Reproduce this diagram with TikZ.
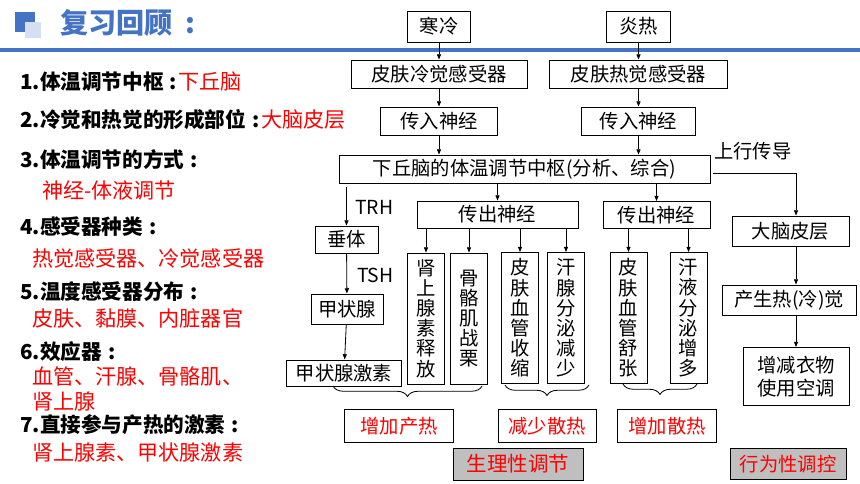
\documentclass[tikz,border=0pt]{standalone}
\usepackage{fontspec}
\setmainfont{Noto Sans CJK SC}
\usepackage{tikz}
\usetikzlibrary{arrows.meta, positioning, decorations.pathreplacing, calc}

\definecolor{titleblue}{HTML}{4472C4}
\definecolor{lightblue}{HTML}{D6DFF2}
\definecolor{boxgray}{HTML}{BFBFBF}
\newcommand\qcolon{\hspace{0.3em}:}

\begin{document}
\begin{tikzpicture}[
  x=0.03cm, y=-0.03cm,
  box/.style={rectangle, draw=black, line width=0.8pt, inner sep=0pt, font=\fontsize{16.5}{18}\selectfont, align=center},
  vbox/.style={box, minimum width=1.11cm, minimum height=3.93cm, font=\fontsize{16.5}{17.2}\selectfont},
  redbox/.style={box, text=red, minimum height=0.99cm},
  graybox/.style={box, fill=boxgray, text=red, font=\fontsize{17.5}{19}\selectfont},
  hlabel/.style={anchor=west, inner sep=0pt, font=\fontsize{16.5}{18}\selectfont},
  item/.style={anchor=west, inner sep=0pt, font=\fontsize{17.6}{20}\selectfont\bfseries},
  ans/.style={anchor=west, inner sep=0pt, text=red, font=\fontsize{18}{20}\selectfont},
  arr/.style={-{Triangle[length=4.5pt, width=3.5pt]}, line width=0.7pt},
  brc/.style={decorate, decoration={brace, mirror, amplitude=9pt}, line width=0.7pt},
]
\useasboundingbox (0,0) rectangle (860,484);

%% Title bar
\fill[titleblue] (15,12) rectangle (35,32);
\fill[lightblue] (25,22) rectangle (41,38);
\node[anchor=west, inner sep=0pt, text=titleblue, font=\fontsize{24}{26}\selectfont\bfseries] (title) at (60,23) {复习回顾\hspace{0.45em}:};
\draw[titleblue, line width=3pt] (0,50) -- (860,50);

%% Review points
\node[item] (q1) at (20,81.5)  {1.体温调节中枢\qcolon};
\node[ans, right=1pt of q1] (a1) {下丘脑};
\node[item] (q2) at (20,120)   {2.冷觉和热觉的形成部位\qcolon};
\node[ans, right=1pt of q2] (a2) {大脑皮层};
\node[item] (q3) at (20,160)   {3.体温调节的方式\qcolon};
\node[ans]  (a3) at (42,190)   {神经-体液调节};
\node[item] (q4) at (20,226.5) {4.感受器种类\qcolon};
\node[ans]  (a4) at (32,258)   {热觉感受器、冷觉感受器};
\node[item] (q5) at (20,291.5) {5.温度感受器分布\qcolon};
\node[ans]  (a5) at (32,318)   {皮肤、黏膜、内脏器官};
\node[item] (q6) at (20,351.5) {6.效应器\qcolon};
\node[ans]  (a6) at (32,376.5) {血管、汗腺、骨骼肌、};
\node[ans]  (a6b) at (32,401.5) {肾上腺};
\node[item] (q7) at (20,425)   {7.直接参与产热的激素\qcolon};
\node[ans]  (a7) at (32,452.5) {肾上腺素、甲状腺激素};

%% Stimuli and afferent path
\node[box, minimum width=1.89cm, minimum height=0.93cm] (cold)  at (439,26.5)  {寒冷};
\node[box, minimum width=1.92cm, minimum height=0.93cm] (hot)   at (638.5,26.5) {炎热};
\node[box, minimum width=5.28cm, minimum height=0.84cm] (rcold) at (439,74)    {皮肤冷觉感受器};
\node[box, minimum width=5.34cm, minimum height=0.84cm] (rhot)  at (638.5,74)  {皮肤热觉感受器};
\node[box, minimum width=3.51cm, minimum height=0.84cm] (affL)  at (439,121)   {传入神经};
\node[box, minimum width=3.42cm, minimum height=0.84cm] (affR)  at (638.5,121) {传入神经};
\node[box, minimum width=11.13cm, minimum height=0.84cm] (hyp)  at (524.5,169) {下丘脑的体温调节中枢(分析、综合)};

%% Efferent path
\node[box, minimum width=4.83cm, minimum height=0.81cm] (effL) at (497.5,214.5) {传出神经};
\node[box, minimum width=3.21cm, minimum height=0.81cm] (effR) at (656.5,215)   {传出神经};
\node[vbox] (v1) at (426,318.5) {肾\\上\\腺\\素\\释\\放};
\node[vbox] (v2) at (469,318.5) {骨\\骼\\肌\\战\\栗};
\node[vbox] (v3) at (520,318)   {皮\\肤\\血\\管\\收\\缩};
\node[vbox] (v4) at (566,318)   {汗\\腺\\分\\泌\\减\\少};
\node[vbox] (v5) at (628.5,318) {皮\\肤\\血\\管\\舒\\张};
\node[vbox] (v6) at (688.5,318) {汗\\液\\分\\泌\\增\\多};

%% Hormone path
\node[box, minimum width=1.89cm, minimum height=0.81cm] (pit)  at (346.5,239.5) {垂体};
\node[box, minimum width=2.16cm, minimum height=0.9cm]  (thy)  at (347,309)     {甲状腺};
\node[box, minimum width=3.45cm, minimum height=0.78cm] (thyh) at (344,373)     {甲状腺激素};
\node[hlabel] (trh) at (355,207) {TRH};
\node[hlabel] (tsh) at (357,275) {TSH};

%% Cortex path
\node[box, minimum width=3.51cm, minimum height=0.9cm]  (cortex) at (790.5,231) {大脑皮层};
\node[box, minimum width=4.02cm, minimum height=0.9cm]  (feel)   at (789,300)   {产生热(冷)觉};
\node[box, minimum width=3.18cm, minimum height=1.74cm, font=\fontsize{16.5}{20}\selectfont] (act) at (796,376.5) {增减衣物\\使用空调};
\node[hlabel] (up) at (714,151) {上行传导};

%% Results
\node[redbox, minimum width=3.27cm] (r1) at (399,426) {增加产热};
\node[redbox, minimum width=2.94cm] (r2) at (547,426) {减少散热};
\node[redbox, minimum width=2.97cm] (r3) at (667,426) {增加散热};
\node[graybox, minimum width=3.9cm, minimum height=0.96cm]  (g1) at (518,464) {生理性调节};
\node[graybox, minimum width=3.48cm, minimum height=0.93cm, font=\fontsize{16.5}{18}\selectfont] (g2) at (788,464) {行为性调控};

%% Arrows
\draw[arr] (cold) -- (rcold);
\draw[arr] (hot) -- (rhot);
\draw[arr] (rcold) -- (affL);
\draw[arr] (rhot) -- (affR);
\draw[arr] (affL) -- (affL |- hyp.north);
\draw[arr] (affR) -- (affR |- hyp.north);
\draw[arr] (hyp.south -| effL) -- (effL);
\draw[arr] (hyp.south -| effR) -- (effR);
\draw[arr] ([yshift=-0.12cm]hyp.south -| pit) -- (pit);
\draw[arr] (pit) -- (thy);
\draw[arr] (thy) -- (thyh);
\foreach \v in {v1,v2,v3,v4} {
  \draw[arr] (effL.south -| \v) -- (\v);
}
\foreach \v in {v5,v6} {
  \draw[arr] (effR.south -| \v) -- (\v);
}
\draw[arr] ([shift={(3,4)}]hyp.east) -| (act |- cortex.north);
\draw[arr] (cortex.south -| act) -- (feel.north -| act);
\draw[arr] (feel.south -| act) -- (act);

%% Braces
\draw[brc] (333,386) -- (482,386);
\draw[brc] (505,385) -- (589,385);
\draw[brc] (623,384) -- (697,384);
\end{tikzpicture}
\end{document}
